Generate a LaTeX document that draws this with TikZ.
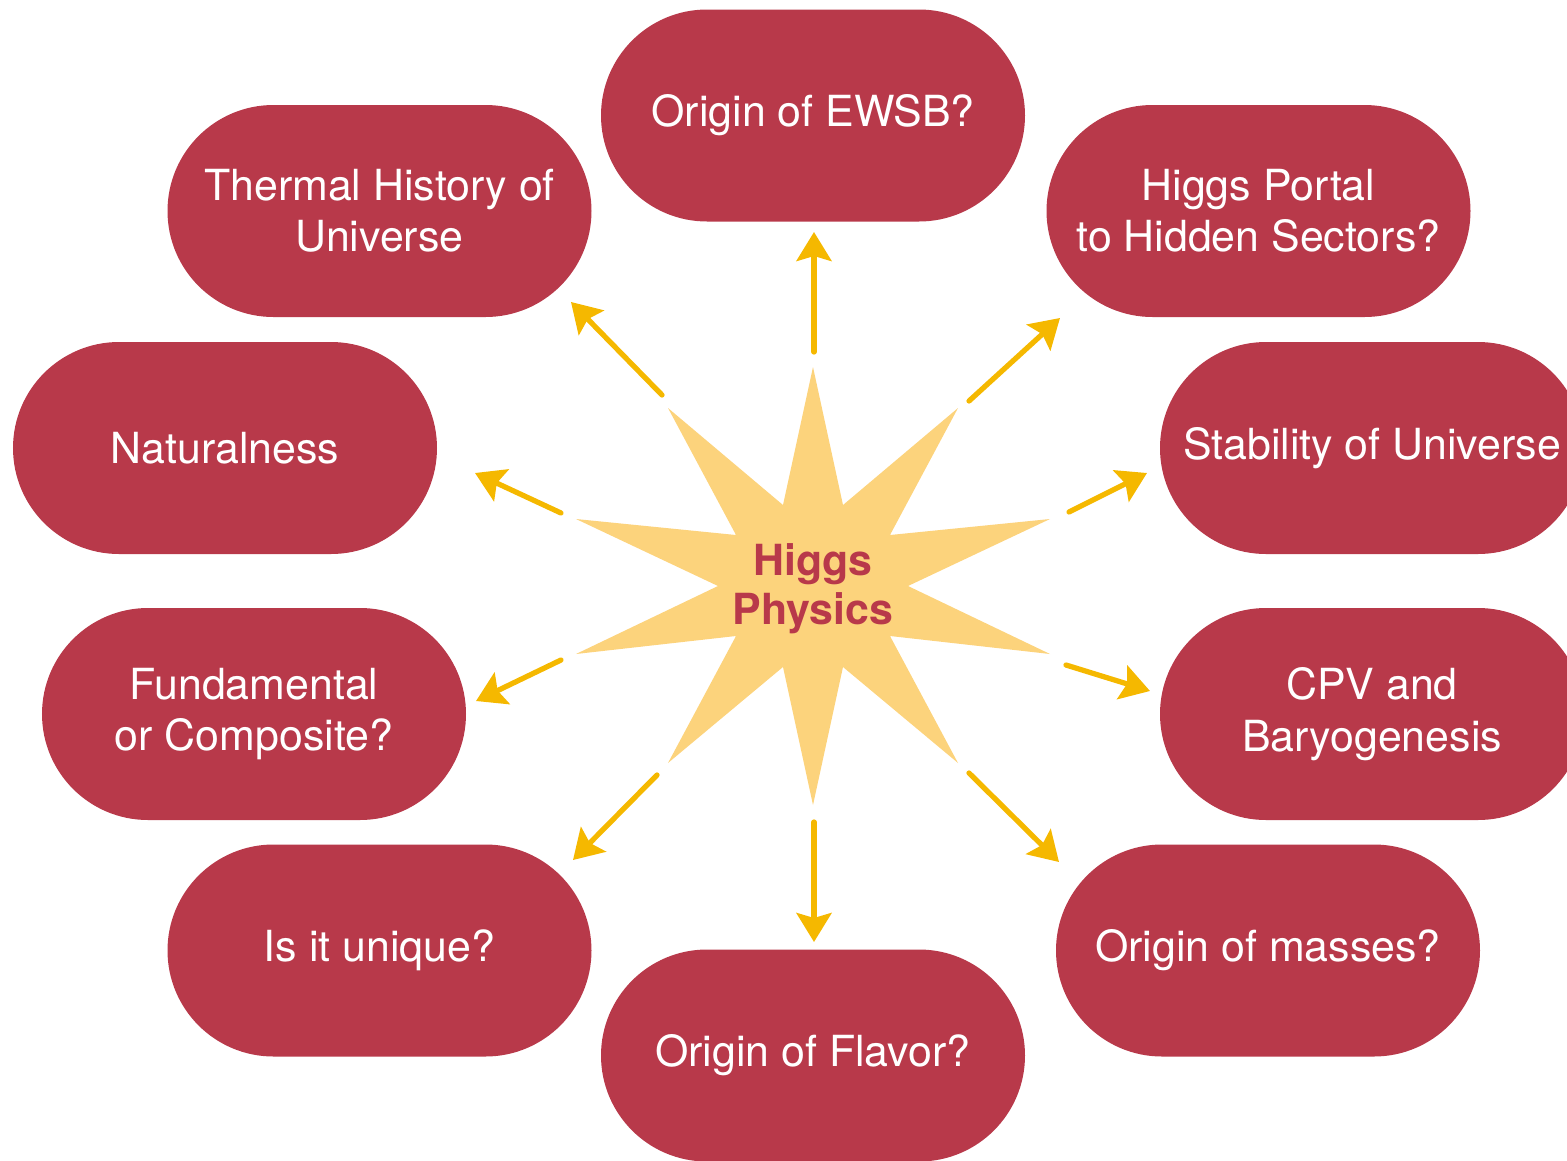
\documentclass[tikz,border=0pt]{standalone}
\usepackage{fontspec}
\setmainfont{TeX Gyre Heros}
\usepackage{xcolor}
\usepackage{tikz}
\usetikzlibrary{arrows.meta, shapes.misc, calc}
\definecolor{hred}{HTML}{B8394A}
\definecolor{hstar}{HTML}{FCD37C}
\definecolor{harrow}{HTML}{F5B800}
\tikzset{
  pill/.style={rounded rectangle,fill=hred,text=white,align=center,
    minimum width=4.24cm,minimum height=2.12cm,inner sep=0pt,
    font=\fontsize{12.2}{14.6}\selectfont},
  ar/.style={-{Stealth[length=2.9mm,width=3.5mm,inset=0.5mm]},line width=1.5pt,
    draw=harrow,line cap=round}
}

\begin{document}
\begin{tikzpicture}
\useasboundingbox (0,0) rectangle (15.67,-11.60);
\clip (0,0) rectangle (15.67,-11.60);
% questions around the star
\node[pill] (ewsb) at (8.13,-1.155) {Origin of EWSB?};
\node[pill] (thermal) at (3.795,-2.11) {Thermal History of\\Universe};
\node[pill] (portal) at (12.585,-2.11) {Higgs Portal\\to Hidden Sectors?};
\node[pill] (natural) at (2.25,-4.48) {Naturalness};
\node[pill] (stab) at (13.72,-4.48) {Stability of Universe};
\node[pill] (fund) at (2.54,-7.14) {Fundamental\\or Composite?};
\node[pill] (cpv) at (13.72,-7.14) {CPV and\\Baryogenesis};
\node[pill] (uniq) at (3.795,-9.505) {Is it unique?};
\node[pill] (mass) at (12.68,-9.505) {Origin of masses?};
\node[pill] (flav) at (8.13,-10.555) {Origin of Flavor?};
% star
\fill[hstar] (8.13,-3.67) -- (8.43,-5.05) -- (9.58,-4.08) -- (8.90,-5.35)
  -- (10.50,-5.19) -- (9.08,-5.86) -- (10.50,-6.54) -- (8.90,-6.36)
  -- (9.58,-7.63) -- (8.43,-6.67) -- (8.13,-8.05) -- (7.83,-6.67)
  -- (6.68,-7.63) -- (7.36,-6.36) -- (5.76,-6.54) -- (7.18,-5.86)
  -- (5.76,-5.19) -- (7.36,-5.35) -- (6.68,-4.08) -- (7.83,-5.05) -- cycle;
\node[font=\fontsize{12.2}{14}\selectfont\bfseries,text=hred,align=center] (hp)
  at (8.13,-5.89) {Higgs\\Physics};
% arrow ends
\coordinate (t1) at (8.14,-3.52);  \coordinate (h1) at (8.14,-2.32);
\coordinate (t2) at (6.62,-3.95);  \coordinate (h2) at (5.71,-3.02);
\coordinate (t3) at (9.69,-4.01);  \coordinate (h3) at (10.60,-3.18);
\coordinate (t4) at (5.61,-5.13);  \coordinate (h4) at (4.75,-4.73);
\coordinate (t5) at (10.69,-5.12); \coordinate (h5) at (11.47,-4.73);
\coordinate (t6) at (5.61,-6.60);  \coordinate (h6) at (4.76,-7.01);
\coordinate (t7) at (10.66,-6.65); \coordinate (h7) at (11.50,-6.91);
\coordinate (t8) at (6.57,-7.75);  \coordinate (h8) at (5.73,-8.60);
\coordinate (t9) at (9.69,-7.73);  \coordinate (h9) at (10.59,-8.62);
\coordinate (t10) at (8.14,-8.22); \coordinate (h10) at (8.14,-9.42);
\foreach \i in {1,...,10}
  \draw[ar] (t\i) -- (h\i);
\end{tikzpicture}
\end{document}
